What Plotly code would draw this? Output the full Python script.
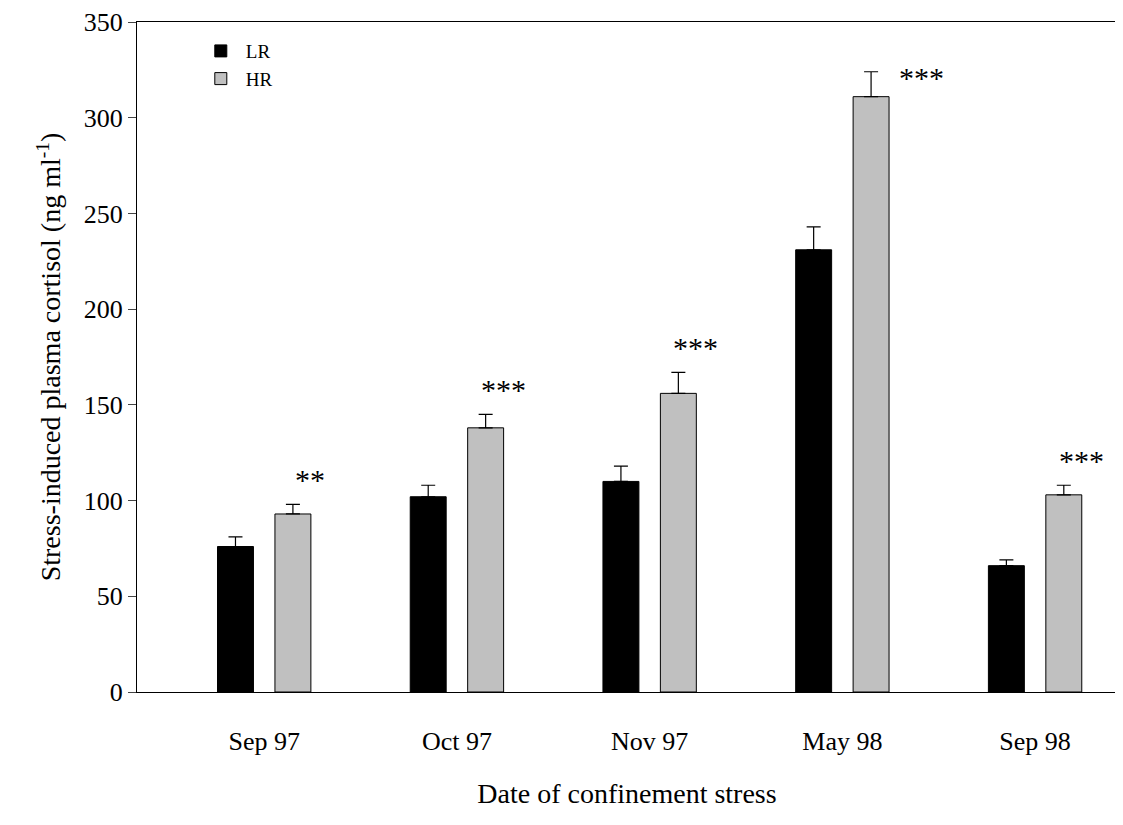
import plotly.graph_objects as go

dates = ["Sep 97", "Oct 97", "Nov 97", "May 98", "Sep 98"]
lr_vals = [76, 102, 110, 231, 66]
lr_err = [5, 6, 8, 12, 3]
hr_vals = [93, 138, 156, 311, 103]
hr_err = [5, 7, 11, 13, 5]
stars = ["**", "***", "***", "***", "***"]

font = "Liberation Serif, Times New Roman, serif"

fig = go.Figure()
fig.add_trace(go.Bar(
    x=dates, y=lr_vals, name="LR",
    marker=dict(color="black", line=dict(color="black", width=1)),
    error_y=dict(type="data", array=lr_err, arrayminus=[0] * 5, symmetric=False,
                 color="black", thickness=1.2, width=7)))
fig.add_trace(go.Bar(
    x=dates, y=hr_vals, name="HR",
    marker=dict(color="#c0c0c0", line=dict(color="black", width=1)),
    error_y=dict(type="data", array=hr_err, arrayminus=[0] * 5, symmetric=False,
                 color="black", thickness=1.2, width=7)))

# significance stars above the HR bars
for i, s in enumerate(stars):
    fig.add_annotation(x=i + 0.24, y=hr_vals[i] + hr_err[i], text=s, showarrow=False,
                       xanchor="left" if i == 3 else "center", yanchor="bottom",
                       xshift=8 if i == 3 else 0, yshift=6 if i != 3 else -24,
                       font=dict(family=font, size=30, color="black"))

fig.update_layout(
    width=1123, height=825, autosize=False,
    plot_bgcolor="white", paper_bgcolor="white",
    margin=dict(l=129, r=14, t=14, b=141),
    barmode="group", bargap=0.404, bargroupgap=0.374,
    font=dict(family=font, size=26, color="black"),
    legend=dict(x=0.06, y=0.985, xanchor="left", yanchor="top",
                bgcolor="rgba(0,0,0,0)", font=dict(size=19), itemwidth=40),
    xaxis=dict(title=dict(text="Date of confinement stress", font=dict(size=28), standoff=28),
               range=[-0.66, 4.425], automargin=False,
               showline=True, linecolor="black", mirror=True,
               ticks="outside", ticklen=26, tickcolor="white",
               tickfont=dict(size=26)),
    yaxis=dict(title=dict(text="Stress-induced plasma cortisol (ng ml<sup>-1</sup>)",
                          font=dict(size=28), standoff=14),
               range=[0, 350], dtick=50, showgrid=False, zeroline=False, automargin=False,
               showline=True, linecolor="black", mirror=True,
               ticks="outside", ticklen=8, tickfont=dict(size=26)),
)

fig.write_html("out.html")
